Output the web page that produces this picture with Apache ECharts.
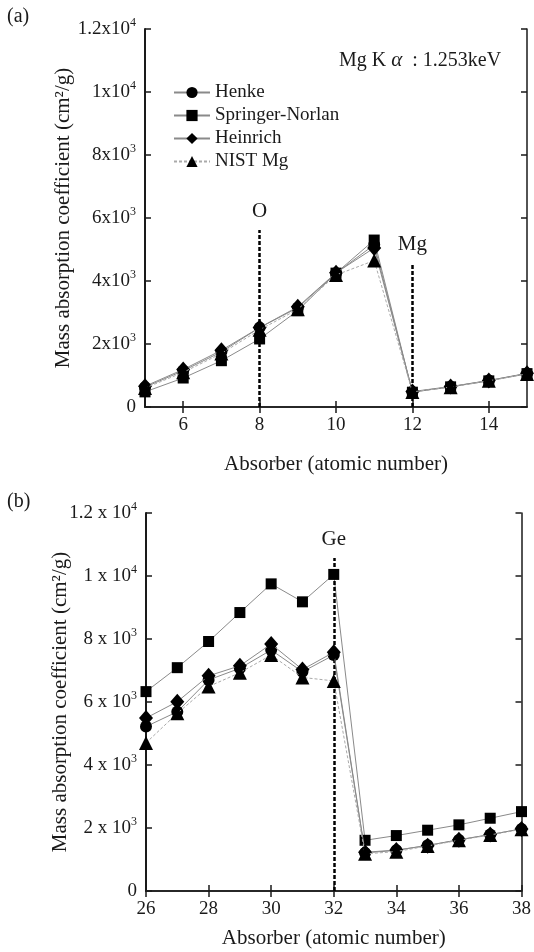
<!DOCTYPE html>
<html>
<head>
<meta charset="utf-8">
<title>Mass absorption coefficient</title>
<script src="https://cdn.jsdelivr.net/npm/echarts@6/dist/echarts.min.js"></script>
<style>
  html, body { margin: 0; padding: 0; background: #fff; }
  #chart { width: 534px; height: 952px; }
</style>
</head>
<body>
<div id="chart"></div>
<script>
// panel (a): Mg K alpha, absorbers Z = 5..15
var zA = [5, 6, 7, 8, 9, 10, 11, 12, 13, 14, 15];
var henkeA    = [630, 1150, 1750, 2520, 3150, 4250, 5150, 480, 640, 840, 1060];
var springerA = [480, 920, 1470, 2160, 3060, 4250, 5300, 470, 640, 830, 1060];
var heinrichA = [660, 1190, 1800, 2520, 3180, 4260, 5050, 490, 650, 840, 1070];
var nistA     = [600, 1100, 1700, 2450, 3100, 4190, 4650, 480, 630, 830, 1050];

// panel (b): absorbers Z = 26..38
var zB = [26, 27, 28, 29, 30, 31, 32, 33, 34, 35, 36, 37, 38];
var henkeB    = [5220, 5690, 6700, 7070, 7650, 6960, 7490, 1210, 1290, 1450, 1620, 1790, 1970];
var springerB = [6330, 7090, 7920, 8840, 9750, 9180, 10050, 1610, 1760, 1930, 2100, 2310, 2520];
var heinrichB = [5490, 6010, 6830, 7150, 7840, 7030, 7580, 1230, 1300, 1440, 1630, 1790, 1970];
var nistB     = [4700, 5640, 6490, 6930, 7490, 6780, 6670, 1180, 1250, 1430, 1610, 1780, 1960];

var names = ['Henke', 'Springer-Norlan', 'Heinrich', 'NIST Mg'];
var symbols = ['circle', 'rect', 'diamond', 'triangle'];
var symbolSizes = [12, 11, [14, 16], 14];

var xTicksA = [6, 8, 10, 12, 14];

// absorption edges: [label, Z, top of the dashed line]
var edgesA = [['O', 8, 5620], ['Mg', 12, 4570]];
var edgesB = [['Ge', 32, 10570]];

var font = 'Liberation Serif';
var ink = '#1a1a1a';

function pairs(xs, ys) {
  var out = [];
  for (var i = 0; i < xs.length; i++) out.push([xs[i], ys[i]]);
  return out;
}

function sciLabel(sep) {
  return function (v) {
    if (v === 0) return '{m|0}';
    var e = Math.floor(Math.log10(v) + 1e-9);
    var m = +(v / Math.pow(10, e)).toFixed(1);
    return '{m|' + m + sep + 'x' + sep + '10}{s|' + e + '}';
  };
}

var richSci = {
  m: { fontFamily: font, fontSize: 19, color: ink, lineHeight: 24 },
  s: { fontFamily: font, fontSize: 12, color: ink, lineHeight: 24, verticalAlign: 'top' }
};

function mainX(grid, min, max, extra) {
  var ax = {
    type: 'value', gridIndex: grid, min: min, max: max, position: 'bottom',
    axisLine: { show: true, lineStyle: { color: ink, width: 1.5 } },
    axisTick: { inside: true, length: 6, lineStyle: { color: ink, width: 1.5 } },
    axisLabel: { fontFamily: font, fontSize: 19, color: ink, margin: 9 },
    splitLine: { show: false },
    name: 'Absorber (atomic number)', nameLocation: 'middle',
    nameTextStyle: { fontFamily: font, fontSize: 21, color: ink }
  };
  return Object.assign(ax, extra);
}

function topX(grid, min, max, extra) {
  var ax = {
    type: 'value', gridIndex: grid, min: min, max: max, position: 'top',
    axisLine: { show: true, lineStyle: { color: ink, width: 1.5 } },
    axisTick: { inside: true, length: 6, lineStyle: { color: ink, width: 1.5 } },
    axisLabel: { show: false },
    splitLine: { show: false }
  };
  return Object.assign(ax, extra);
}

function leftY(grid, sep, gap) {
  return {
    type: 'value', gridIndex: grid, min: 0, max: 12000, interval: 2000, position: 'left',
    axisLine: { show: true, lineStyle: { color: ink, width: 2 } },
    axisTick: { inside: true, length: 6, lineStyle: { color: ink, width: 1.5 } },
    axisLabel: { formatter: sciLabel(sep), rich: richSci, margin: 9 },
    splitLine: { show: false },
    name: 'Mass absorption coefficient (cm\u00b2/g)', nameLocation: 'middle', nameGap: gap,
    nameMoveOverlap: false,
    nameTextStyle: { fontFamily: font, fontSize: 21, color: ink }
  };
}

function rightY(grid) {
  return {
    type: 'value', gridIndex: grid, min: 0, max: 12000, interval: 2000, position: 'right',
    axisLine: { show: true, lineStyle: { color: ink, width: 1.5 } },
    axisTick: { inside: true, length: 6, lineStyle: { color: ink, width: 1.5 } },
    axisLabel: { show: false },
    splitLine: { show: false }
  };
}

function panelSeries(xi, yi, xs, sets) {
  return sets.map(function (ys, k) {
    return {
      name: names[k], type: 'line', xAxisIndex: xi, yAxisIndex: yi,
      data: pairs(xs, ys),
      symbol: symbols[k], symbolSize: symbolSizes[k],
      itemStyle: { color: '#000' },
      lineStyle: { color: k === 3 ? '#aaa' : '#8a8a8a', width: 1, type: k === 3 ? [3, 2] : 'solid' },
      z: 3 + k,
      silent: true
    };
  });
}

function edgeSeries(xi, yi, edges) {
  return {
    type: 'line', xAxisIndex: xi, yAxisIndex: yi, data: [], silent: true,
    markLine: {
      symbol: 'none', silent: true, animation: false,
      lineStyle: { color: '#000', width: 2.5, type: [4, 2] },
      label: { position: 'end', distance: 8, fontFamily: font, fontSize: 21, color: ink,
               formatter: function (p) { return p.name; } },
      data: edges.map(function (e) {
        return [{ name: e[0], coord: [e[1], 0] }, { coord: [e[1], e[2]] }];
      })
    }
  };
}

var chart = echarts.init(document.getElementById('chart'));

var option = {
  animation: false,
  backgroundColor: '#fff',
  grid: [
    { left: 145, right: 7, top: 29, height: 378, show: false },
    { left: 146, right: 8, top: 513, height: 378, show: false }
  ],
  xAxis: [
    mainX(0, 5, 15, {
      nameGap: 47,
      axisTick: { inside: true, length: 6, customValues: xTicksA, lineStyle: { color: ink, width: 1.5 } },
      axisLabel: { fontFamily: font, fontSize: 19, color: ink, margin: 9, customValues: xTicksA }
    }),
    topX(0, 5, 15, {
      axisTick: { inside: true, length: 6, customValues: xTicksA, lineStyle: { color: ink, width: 1.5 } }
    }),
    mainX(1, 26, 38, { interval: 2, nameGap: 37 }),
    topX(1, 26, 38, { interval: 2 })
  ],
  yAxis: [leftY(0, '', 71), rightY(0), leftY(1, ' ', 75), rightY(1)],
  legend: {
    data: names, orient: 'vertical', left: 168, top: 78,
    itemWidth: 36, itemHeight: 14, itemGap: 4,
    textStyle: { fontFamily: font, fontSize: 19, color: ink },
    selectedMode: false
  },
  graphic: [
    { type: 'text', left: 7, top: 7, style: { text: '(a)', fontFamily: font, fontSize: 20, fill: ink } },
    { type: 'text', left: 7, top: 492, style: { text: '(b)', fontFamily: font, fontSize: 20, fill: ink } },
    { type: 'text', left: 339, top: 50, style: {
        text: '{t|Mg K }{g|\u03b1}{t|  : 1.253keV}',
        rich: {
          t: { fontFamily: font, fontSize: 20, fill: ink },
          g: { fontFamily: font, fontSize: 21, fontStyle: 'italic', fill: ink }
        }
    } }
  ],
  series: []
      .concat(panelSeries(0, 0, zA, [henkeA, springerA, heinrichA, nistA]))
      .concat(panelSeries(2, 2, zB, [henkeB, springerB, heinrichB, nistB]))
      .concat([edgeSeries(0, 0, edgesA), edgeSeries(2, 2, edgesB)])
};

chart.setOption(option);
</script>
</body>
</html>
